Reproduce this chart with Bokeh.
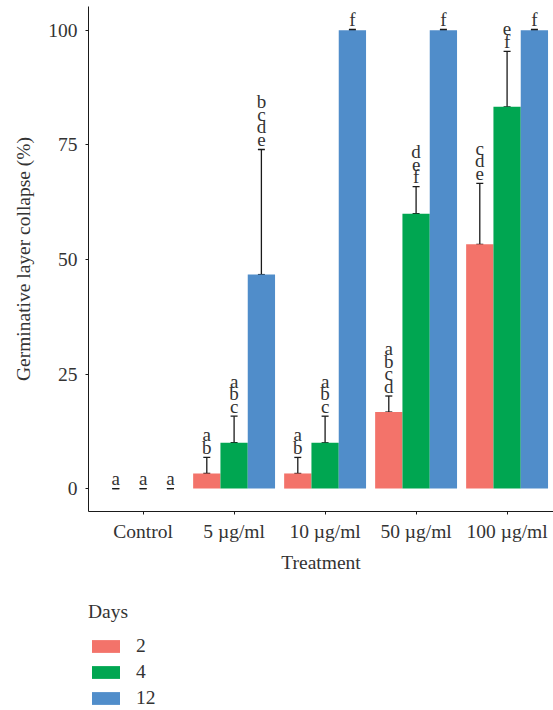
from bokeh.plotting import figure
from bokeh.models import ColumnDataSource, Range1d, FixedTicker, Whisker, TeeHead, Legend, LegendItem
from bokeh.layouts import column
from bokeh.core.properties import value
from bokeh.embed import file_html
from bokeh.resources import INLINE

treatments = ["Control", "5 µg/ml", "10 µg/ml", "50 µg/ml", "100 µg/ml"]
days = ["2", "4", "12"]
colors = ["#F3736A", "#00A651", "#508DCA"]

mean_day2 = [0, 3.3, 3.3, 16.7, 53.3]
se_day2 = [0, 3.5, 3.5, 3.5, 13.3]
mean_day4 = [0, 10.0, 10.0, 60.0, 83.3]
se_day4 = [0, 5.8, 5.8, 5.9, 12.1]
mean_day12 = [0, 46.7, 100.0, 100.0, 100.0]
se_day12 = [0, 27.3, 0.2, 0.2, 0.2]

letters_day2 = ["a", "ab", "ab", "abcd", "cde"]
letters_day4 = ["a", "abc", "abc", "def", "ef"]
letters_day12 = ["a", "bcde", "f", "f", "f"]

y_ticks = [0, 25, 50, 75, 100]

means = [mean_day2, mean_day4, mean_day12]
ses = [se_day2, se_day4, se_day12]
letters = [letters_day2, letters_day4, letters_day12]

FONT = "Liberation Serif"
TXT = "#333333"

p = figure(width=553, height=582, output_backend="svg", toolbar_location=None,
           x_range=Range1d(0.4, 5.51), y_range=Range1d(-5, 105.2),
           min_border_left=88, min_border_right=0, min_border_top=6, min_border_bottom=71)
p.outline_line_color = None
p.xgrid.visible = False
p.ygrid.visible = False

offsets = [-0.3, 0.0, 0.3]
for j, day in enumerate(days):
    xs = [i + 1 + offsets[j] for i in range(len(treatments))]
    m = means[j]
    s = ses[j]
    src = ColumnDataSource(dict(x=xs, top=m, upper=[a + b for a, b in zip(m, s)]))
    p.vbar(x="x", top="top", bottom=0, width=0.3, source=src,
           fill_color=colors[j], line_color=None)
    w = Whisker(source=src, base="x", lower="top", upper="upper",
                line_color="#1a1a1a", line_width=1.3,
                upper_head=TeeHead(size=7, line_color="#1a1a1a", line_width=1.3),
                lower_head=TeeHead(size=7, line_color="#1a1a1a", line_width=1.3))
    p.add_layout(w)
    # letters
    tx, ty, tt, toff = [], [], [], []
    for i, lab in enumerate(letters[j]):
        n = len(lab)
        for k, ch in enumerate(lab):
            tx.append(xs[i])
            ty.append(m[i] + s[i])
            tt.append(ch)
            toff.append(-(10 + (n - 1 - k) * 12.5))
    tsrc = ColumnDataSource(dict(x=tx, y=ty, t=tt, off=toff))
    p.text(x="x", y="y", text="t", y_offset="off", source=tsrc,
           text_font=value(FONT), text_font_size="19px", text_color=TXT,
           text_align="center", text_baseline="alphabetic")

# axes
p.xaxis.ticker = FixedTicker(ticks=[1, 2, 3, 4, 5])
p.xaxis.major_label_overrides = {i + 1: t for i, t in enumerate(treatments)}
p.yaxis.ticker = FixedTicker(ticks=y_ticks)
p.xaxis.axis_label = "Treatment"
p.yaxis.axis_label = "Germinative layer collapse (%)"
for ax in (p.xaxis[0], p.yaxis[0]):
    ax.minor_tick_line_color = None
    ax.major_tick_in = 0
    ax.major_tick_out = 3
    ax.axis_line_color = "#1a1a1a"
    ax.major_tick_line_color = "#1a1a1a"
    ax.major_label_text_font = FONT
    ax.major_label_text_font_size = "19.5px"
    ax.major_label_text_color = TXT
    ax.axis_label_text_font = FONT
    ax.axis_label_text_font_size = "19.5px"
    ax.axis_label_text_font_style = "normal"
    ax.axis_label_text_color = TXT
p.yaxis.major_label_standoff = 8
p.yaxis.axis_label_standoff = 11
p.xaxis.major_label_standoff = 6
p.xaxis.axis_label_standoff = 7

# legend in its own small figure below the chart
pl = figure(width=553, height=128, output_backend="svg", toolbar_location=None,
            x_axis_type=None, y_axis_type=None, x_range=Range1d(0, 1), y_range=Range1d(0, 1),
            min_border_left=87, min_border_top=19, min_border_right=0, min_border_bottom=0)
pl.outline_line_color = None
pl.xgrid.visible = False
pl.ygrid.visible = False
items = []
for j, day in enumerate(days):
    r = pl.vbar(x=[float("nan")], top=[float("nan")], width=0.3,
                fill_color=colors[j], line_color=None)
    items.append(LegendItem(label=day, renderers=[r]))
legend = Legend(items=items, location="top_left", title="Days",
                orientation="vertical", padding=0, margin=0, border_line_color=None,
                background_fill_alpha=0, glyph_width=35, glyph_height=16,
                label_height=16, label_standoff=13, spacing=4, title_standoff=12,
                label_text_font=FONT, label_text_font_size="19.5px", label_text_color=TXT,
                title_text_font=FONT, title_text_font_size="19.5px", title_text_color=TXT,
                title_text_font_style="normal")
pl.add_layout(legend, "center")

layout = column(p, pl, spacing=0)
open("out.html", "w").write(file_html(layout, INLINE))
